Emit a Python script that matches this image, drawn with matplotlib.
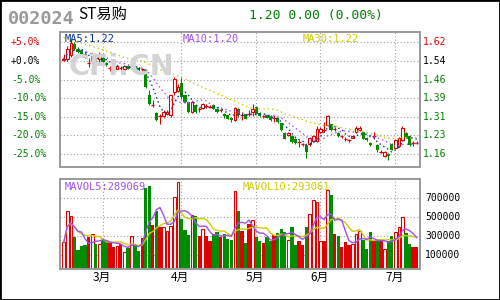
import matplotlib
matplotlib.use('Agg')
import matplotlib.pyplot as plt
import matplotlib.transforms as mtransforms
from matplotlib.patches import Rectangle
import numpy as np
import pandas as pd

# ---------------- data ----------------
opens = [1.545,1.546,1.563,1.609,1.591,1.584,1.570,1.530,1.543,1.550,
         1.546,1.554,1.533,1.509,1.513,1.508,1.509,1.508,1.518,1.513,
         1.518,1.512,1.505,1.504,1.398,1.357,1.325,1.312,1.311,1.319,
         1.315,1.412,1.414,1.449,1.398,1.370,1.329,1.356,1.342,1.345,
         1.355,1.351,1.356,1.343,1.335,1.322,1.315,1.305,1.294,1.343,
         1.315,1.319,1.322,1.329,1.350,1.325,1.311,1.315,1.311,1.302,
         1.305,1.283,1.242,1.232,1.228,1.218,1.205,1.196,1.191,1.195,
         1.209,1.209,1.246,1.255,1.274,1.278,1.260,1.242,1.228,1.218,
         1.212,1.223,1.246,1.253,1.246,1.222,1.200,1.228,1.191,1.164,
         1.145,1.154,1.198,1.181,1.187,1.212,1.242,1.228,1.200,1.200]
highs = [1.570,1.600,1.625,1.620,1.598,1.590,1.575,1.550,1.573,1.555,
         1.578,1.560,1.536,1.520,1.522,1.525,1.515,1.522,1.522,1.523,
         1.520,1.515,1.510,1.506,1.419,1.377,1.330,1.322,1.335,1.335,
         1.400,1.474,1.445,1.474,1.400,1.372,1.375,1.360,1.350,1.365,
         1.360,1.357,1.360,1.345,1.340,1.325,1.318,1.308,1.350,1.345,
         1.329,1.322,1.336,1.360,1.352,1.328,1.318,1.318,1.315,1.315,
         1.308,1.285,1.245,1.248,1.232,1.222,1.214,1.200,1.198,1.225,
         1.235,1.270,1.265,1.287,1.315,1.280,1.265,1.245,1.235,1.225,
         1.218,1.232,1.270,1.270,1.250,1.225,1.205,1.246,1.195,1.170,
         1.168,1.158,1.200,1.218,1.225,1.270,1.245,1.232,1.208,1.208]
lows = [1.540,1.540,1.555,1.585,1.572,1.565,1.550,1.515,1.529,1.535,
        1.530,1.530,1.518,1.498,1.505,1.505,1.500,1.504,1.505,1.508,
        1.505,1.498,1.497,1.430,1.356,1.350,1.290,1.281,1.305,1.315,
        1.310,1.398,1.410,1.384,1.365,1.325,1.325,1.325,1.330,1.340,
        1.345,1.345,1.340,1.325,1.330,1.305,1.298,1.288,1.290,1.310,
        1.297,1.298,1.311,1.311,1.320,1.308,1.305,1.302,1.290,1.287,
        1.284,1.250,1.215,1.228,1.200,1.195,1.184,1.190,1.140,1.190,
        1.205,1.205,1.240,1.246,1.270,1.250,1.250,1.225,1.222,1.210,
        1.205,1.220,1.242,1.250,1.215,1.208,1.188,1.218,1.165,1.158,
        1.143,1.130,1.170,1.178,1.185,1.208,1.220,1.188,1.190,1.195]
closes = [1.548,1.588,1.616,1.588,1.577,1.568,1.554,1.530,1.559,1.540,
          1.568,1.536,1.522,1.509,1.513,1.518,1.509,1.518,1.508,1.518,
          1.508,1.501,1.505,1.432,1.360,1.357,1.294,1.312,1.329,1.329,
          1.398,1.467,1.432,1.391,1.370,1.329,1.370,1.329,1.342,1.360,
          1.355,1.351,1.343,1.329,1.335,1.311,1.301,1.294,1.347,1.315,
          1.315,1.301,1.322,1.340,1.322,1.311,1.311,1.305,1.294,1.302,
          1.287,1.253,1.218,1.242,1.205,1.200,1.205,1.196,1.163,1.222,
          1.228,1.260,1.260,1.255,1.311,1.256,1.260,1.228,1.228,1.218,
          1.212,1.228,1.264,1.264,1.218,1.211,1.191,1.228,1.173,1.164,
          1.163,1.145,1.173,1.214,1.222,1.264,1.225,1.191,1.200,1.200]
volumes = [234000,565000,512000,286000,157000,192000,203000,286000,321000,220000,
           220000,262000,245000,234000,182000,199000,217000,130000,175000,304000,
           192000,140000,279000,808000,830000,418000,565000,391000,401000,356000,
           412000,711000,871000,481000,366000,314000,523000,512000,297000,377000,
           304000,245000,321000,342000,286000,321000,272000,262000,773000,565000,
           356000,227000,425000,471000,286000,245000,227000,286000,245000,314000,
           332000,377000,342000,262000,394000,210000,252000,210000,401000,530000,
           679000,662000,250000,250000,784000,732000,321000,304000,182000,238000,
           210000,220000,321000,356000,262000,168000,342000,245000,252000,252000,
           168000,252000,304000,342000,401000,498000,331000,220000,185000,185000]
# MA30 for the first 29 bars (window reaches before the shown range)
ma30_early = [1.637,1.631,1.626,1.621,1.617,1.613,1.609,1.605,1.601,1.595,
              1.591,1.587,1.581,1.576,1.570,1.565,1.559,1.555,1.551,1.548,
              1.546,1.543,1.540,1.533,1.526,1.518,1.511,1.504,1.497]
month_idx = [11, 33, 54, 72, 93]
month_labels = ['3月', '4月', '5月', '6月', '7月']
base_price = 1.54
pct_levels = [5, 0, -5, -10, -15, -20, -25]
price_tick_labels = ['1.62', '1.54', '1.46', '1.39', '1.31', '1.23', '1.16']
pct_tick_labels = ['+5.0%', '+0.0%', '-5.0%', '-10.0%', '-15.0%', '-20.0%', '-25.0%']
vol_ticks = [700000, 500000, 300000, 100000]
vol_tick_labels = ['700000', '500000', '300000', '100000']
code = '002024'
name = 'ST易购'
quote = '1.20 0.00 (0.00%)'

# ---------------- derived ----------------
o = np.array(opens); h = np.array(highs); l = np.array(lows); c = np.array(closes)
v = np.array(volumes, dtype=float)
n = len(c)
x = np.arange(n)
cs = pd.Series(c)
ma5 = cs.rolling(5, min_periods=1).mean().values
ma10 = cs.rolling(10, min_periods=1).mean().values
ma30 = np.concatenate([ma30_early, cs.rolling(30).mean().values[len(ma30_early):]])
vs = pd.Series(v)
mav5 = vs.rolling(5, min_periods=1).mean().values
mav10 = vs.rolling(10, min_periods=1).mean().values
price_ticks = [base_price * (1 + p / 100.0) for p in pct_levels]

RED = '#e00000'
GREEN = '#008c00'
TXTGREEN = '#008000'
C_MA5 = '#003399'
C_MA10 = '#a050f0'
C_MA30 = '#cccc00'
GRID = '#a0a0a0'
SPINE = '#999999'
MONO = 'DejaVu Sans Mono'
CJK = ['Noto Sans CJK SC', 'DejaVu Sans']

fig = plt.figure(figsize=(5, 3), dpi=100)
fig.patch.set_facecolor('white')

W, H = 500.0, 300.0
ax = fig.add_axes([60 / W, 1 - 167 / H, 360 / W, 135 / H])
axv = fig.add_axes([60 / W, 1 - 269 / H, 360 / W, 90 / H])

xlim = (-1.04, 99.93)
for a in (ax, axv):
    a.set_xlim(*xlim)
    a.set_xticks([]); a.set_yticks([])
    for s in a.spines.values():
        s.set_color(SPINE); s.set_linewidth(1.4)
    for m in month_idx:
        a.axvline(m, color=GRID, lw=0.8, ls=(0, (1, 2)), zorder=0)

ax.set_ylim(1.1012, 1.6596)
axv.set_ylim(-48000, 904000)

for p in price_ticks:
    ax.axhline(p, color=GRID, lw=0.8, ls=(0, (1, 2)), zorder=0)
for t in vol_ticks:
    axv.axhline(t, color=GRID, lw=0.8, ls=(0, (1, 2)), zorder=0)

# watermark
fig.text(69 / W, 1 - 75 / H, 'CFi.CN', fontsize=20.5, fontweight='bold',
         color='#d4d4d4', family='DejaVu Sans', va='baseline', ha='left', zorder=0)

# candles
bw = 0.72     # hollow body width
fw = 0.92     # filled body width
wlw = 0.75
for i in range(n):
    if c[i] > o[i]:
        ax.vlines(x[i], o[i], l[i], color=RED, lw=wlw, zorder=2)
        ax.vlines(x[i], c[i], h[i], color=RED, lw=wlw, zorder=2)
        ax.add_patch(Rectangle((x[i] - bw / 2, o[i]), bw, c[i] - o[i],
                               facecolor='white', edgecolor=RED, lw=0.8, zorder=3))
    elif c[i] < o[i]:
        ax.vlines(x[i], l[i], h[i], color=GREEN, lw=wlw, zorder=2)
        ax.add_patch(Rectangle((x[i] - fw / 2, c[i]), fw, o[i] - c[i],
                               facecolor=GREEN, edgecolor='none', lw=0, zorder=3))
    else:
        ax.vlines(x[i], l[i], h[i], color=RED, lw=wlw, zorder=2)
        ax.hlines(o[i], x[i] - fw / 2, x[i] + fw / 2, color=RED, lw=0.9, zorder=3)

ax.plot(x, ma30, color=C_MA30, lw=1.0, ls=(0, (1, 2.2)), zorder=4)
ax.plot(x, ma10, color=C_MA10, lw=1.0, ls=(0, (1, 2.2)), zorder=4)
ax.plot(x, ma5, color=C_MA5, lw=1.0, ls=(0, (1, 2.2)), zorder=4)

# volume bars
vb = axv.get_ylim()[0]
for i in range(n):
    if c[i] > o[i]:
        axv.add_patch(Rectangle((x[i] - bw / 2, vb), bw, v[i] - vb,
                                facecolor='white', edgecolor=RED, lw=0.8, zorder=2))
    elif c[i] < o[i]:
        axv.add_patch(Rectangle((x[i] - fw / 2, vb), fw, v[i] - vb,
                                facecolor=GREEN, edgecolor='none', zorder=2))
    else:
        axv.add_patch(Rectangle((x[i] - fw / 2, vb), fw, v[i] - vb,
                                facecolor=RED, edgecolor='none', zorder=2))
axv.plot(x, mav10, color=C_MA30, lw=1.0, zorder=3)
axv.plot(x, mav5, color=C_MA10, lw=1.0, zorder=3)

# axis labels
tl = mtransforms.blended_transform_factory(fig.transFigure, ax.transData)
for k, (p, lp, lv) in enumerate(zip(price_ticks, pct_tick_labels, price_tick_labels)):
    col = RED if k == 0 else ('black' if k == 1 else TXTGREEN)
    fig.text(11 / W, p, lp, transform=tl, fontsize=7, family=MONO, color=col,
             ha='left', va='center')
    fig.text(423 / W, p, lv, transform=tl, fontsize=7, family=MONO, color=col,
             ha='left', va='center')
tv = mtransforms.blended_transform_factory(fig.transFigure, axv.transData)
for t, lab in zip(vol_ticks, vol_tick_labels):
    fig.text(425 / W, t, lab, transform=tv, fontsize=7, family=MONO, color='black',
             ha='left', va='center')
tx = mtransforms.blended_transform_factory(axv.transData, fig.transFigure)
for m, lab in zip(month_idx, month_labels):
    fig.text(m - 0.3, 1 - 277.5 / H, lab, transform=tx, fontsize=8.5, family=CJK,
             color='black', ha='center', va='center')

# legends
fig.text(65 / W, 1 - 42.5 / H, 'MA5:%.2f' % ma5[-1], fontsize=7.5, family=MONO, color=C_MA5, va='baseline')
fig.text(183 / W, 1 - 42.5 / H, 'MA10:%.2f' % ma10[-1], fontsize=7.5, family=MONO, color=C_MA10, va='baseline')
fig.text(303 / W, 1 - 42.5 / H, 'MA30:%.2f' % ma30[-1], fontsize=7.5, family=MONO, color=C_MA30, va='baseline')
fig.text(65 / W, 1 - 190 / H, 'MAVOL5:289069', fontsize=7.5, family=MONO, color=C_MA10, va='baseline')
fig.text(243 / W, 1 - 190 / H, 'MAVOL10:293061', fontsize=7.5, family=MONO, color=C_MA30, va='baseline')

# header
fig.text(8 / W, 1 - 24 / H, code, fontsize=13.2, family=MONO, fontweight='bold', color='#999999', va='baseline')
fig.text(78 / W, 1 - 19 / H, name, fontsize=11, family=CJK, color='black', va='baseline')
fig.text(249 / W, 1 - 19.5 / H, quote, fontsize=9.4, family=MONO, color=TXTGREEN, va='baseline')

fig.patches.append(Rectangle((0, 0), 1, 1, transform=fig.transFigure, fill=False,
                             edgecolor='black', lw=2.0))

fig.savefig('out.png', dpi=100, facecolor='white')
